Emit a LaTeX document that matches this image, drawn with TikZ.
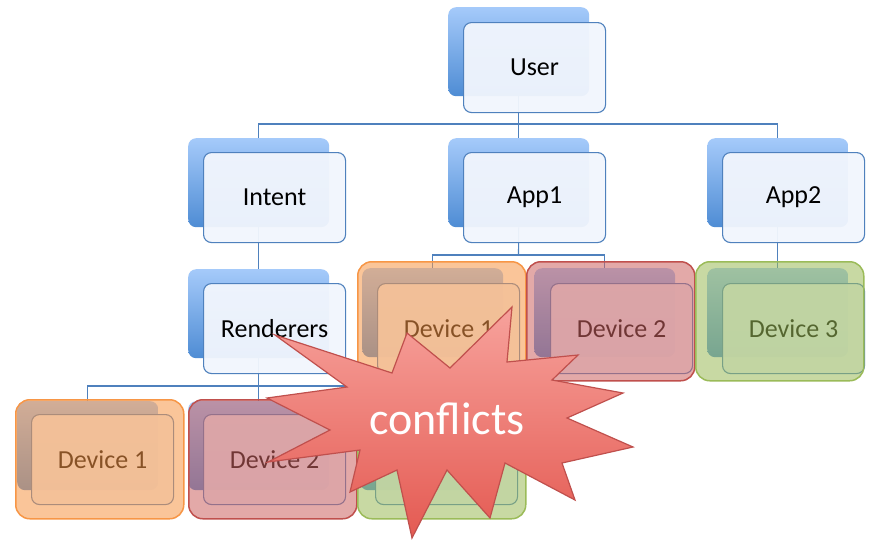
\documentclass[tikz,border=0pt]{standalone}
\usepackage{fontspec}
\setmainfont{Carlito}
\usepackage{tikz}
\usepackage{xcolor}
\definecolor{boxline}{RGB}{79,129,189}
\definecolor{backtop}{RGB}{165,202,250}
\definecolor{backbot}{RGB}{78,140,212}
\definecolor{frontfill}{RGB}{242,246,253}
\definecolor{devorange}{RGB}{247,150,70}
\definecolor{devred}{RGB}{192,80,77}
\definecolor{devredfill}{RGB}{205,100,98}
\definecolor{devgreen}{RGB}{155,187,89}
\definecolor{startop}{RGB}{247,162,156}
\definecolor{starbot}{RGB}{228,90,82}
\tikzset{%
	backbox/.style  = {rectangle, rounded corners=8pt, minimum width=141pt, minimum height=89pt, inner sep=0pt, anchor=north west, top color=backtop, bottom color=backbot, draw=none},
	frontbox/.style = {draw=boxline, line width=1.1pt, rectangle, rounded corners=8pt, minimum width=142pt, minimum height=90pt, inner sep=0pt, anchor=north west, fill=frontfill, fill opacity=0.95, text opacity=1, font=\fontsize{26}{30}\selectfont},
	devcover/.style = {rectangle, rounded corners=14pt, minimum width=168pt, minimum height=119pt, inner sep=0pt, anchor=north west, line width=1.5pt, fill opacity=0.55},
	conn/.style     = {draw=boxline, line width=1.1pt},
	starburst/.style= {draw=devred, line width=1.2pt, top color=startop, bottom color=starbot},
}
\begin{document}
\begin{tikzpicture}[x=1pt,y=-1pt]
		\fill[white] (0,0) rectangle (872,539);
		\useasboundingbox (0,0) rectangle (872,539);
		% back boxes
		\node[backbox] (userb) at (448,7) {};
		\node[backbox] (intentb) at (188,138) {};
		\node[backbox] (app1b) at (448,138) {};
		\node[backbox] (app2b) at (707,138) {};
		\node[backbox] (rendb) at (188,269) {};
		\node[backbox] (adev1b) at (362,268) {};
		\node[backbox] (adev2b) at (534,268) {};
		\node[backbox] (adev3b) at (707,268) {};
		\node[backbox] (rdev1b) at (17,401) {};
		\node[backbox] (rdev2b) at (188,401) {};
		\node[backbox] (rdev3b) at (360,401) {};
		% connectors
		\coordinate (userbus) at (518.5,124);
		\coordinate (app1bus) at (518.5,255);
		\coordinate (rendbus) at (258.5,386);
		\draw[conn] (userb.south) -- (app1b.north);
		\draw[conn] (intentb.north) |- (userbus) -| (app2b.north);
		\draw[conn] (intentb.south) -- (rendb.north);
		\draw[conn] (app1b.south) -- (app1bus);
		\draw[conn] (adev1b.north) |- (app1bus) -| (adev2b.north);
		\draw[conn] (app2b.south) -- (adev3b.north);
		\draw[conn] (rendb.south) -- (rdev2b.north);
		\draw[conn] (rdev1b.north) |- (rendbus) -| (rdev3b.north);
		% front boxes
		\node[frontbox] (user) at (463,22) {User};
		\node[frontbox] (intent) at (203,152) {Intent};
		\node[frontbox] (app1) at (463,152) {App1};
		\node[frontbox] (app2) at (722,152) {App2};
		\node[frontbox] (rend) at (203,283) {Renderers};
		\node[frontbox] (adev1) at (377,283) {Device 1};
		\node[frontbox] (adev2) at (550,283) {Device 2};
		\node[frontbox] (adev3) at (722,283) {Device 3};
		\node[frontbox] (rdev1) at (31,414) {Device 1};
		\node[frontbox] (rdev2) at (203,414) {Device 2};
		\node[frontbox] (rdev3) at (375,414) {Device 3};
		% coloured covers
		\node[devcover, draw=devorange, fill=devorange] (adev1c) at (357,261) {};
		\node[devcover, draw=devred, fill=devredfill] (adev2c) at (526,261) {};
		\node[devcover, draw=devgreen, fill=devgreen] (adev3c) at (695,261) {};
		\node[devcover, draw=devorange, fill=devorange] (rdev1c) at (15,399) {};
		\node[devcover, draw=devred, fill=devredfill] (rdev2c) at (188,399) {};
		\node[devcover, draw=devgreen, fill=devgreen] (rdev3c) at (357,399) {};
		% explosion
		\draw[starburst] (275,335) -- (392,373) -- (407,333) -- (450,368) -- (512,307) -- (507,362) -- (578,355) -- (552,380) -- (623,393) -- (567,418) -- (633,447) -- (562,463) -- (575,500) -- (505,463) -- (490,518) -- (447,470) -- (412,538) -- (397,470) -- (350,492) -- (360,450) -- (268,462) -- (330,430) -- (267,398) -- (347,387) -- cycle;
		\node[inner sep=0pt, text=white, font=\fontsize{46}{50}\selectfont] (conflicts) at (447,419) {conflicts};
\end{tikzpicture}
\end{document}
